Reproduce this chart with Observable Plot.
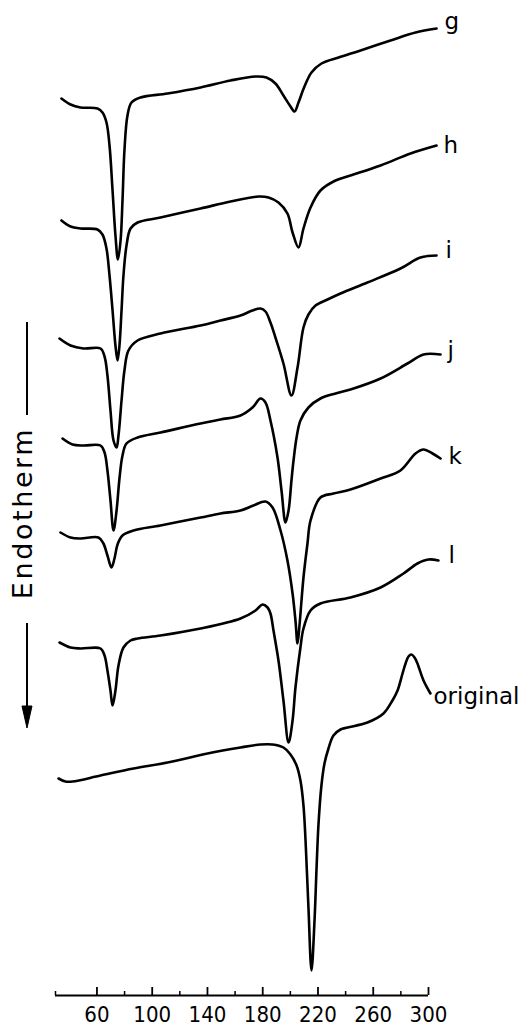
<!DOCTYPE html>
<html>
<head>
<meta charset="utf-8">
<script src="https://cdn.jsdelivr.net/npm/d3@7"></script>
<script src="https://cdn.jsdelivr.net/npm/@observablehq/plot@0.6"></script>
<style>
  html, body { margin: 0; padding: 0; background: #fff; }
  #chart svg { display: block; }
</style>
</head>
<body>
<div id="chart"></div>
<script>
// Temperature (°C) vs DSC signal (arbitrary units, higher = up on page)
const curveG = [[34.3,897],[40.9,891],[48.1,888],[60.4,887],[64.0,883],[66.9,873],[69.1,850],[71.3,805],[73.4,760],[75.2,736],[77.1,755],[78.5,795],[79.9,845],[82.1,880],[85.0,893],[91.5,898],[111.1,902],[135.0,908],[156.7,915],[174.8,919],[182.7,918],[189.2,912],[195.0,900],[200.1,889],[203.0,884],[205.9,893],[210.2,909],[215.3,923],[222.5,932],[234.9,938],[250.8,945],[272.5,955],[290.6,963],[305.8,967]];
const curveH = [[34.3,775],[40.9,769],[48.1,767],[60.4,766],[64.0,761],[66.9,747],[69.1,720],[71.3,685],[73.4,650],[74.9,635],[76.3,650],[77.8,685],[79.2,720],[81.4,750],[84.3,767],[89.4,773],[106.0,778],[135.0,787],[156.7,794],[176.9,799],[184.2,798],[191.4,793],[197.9,782],[201.6,763],[205.9,748],[209.5,767],[214.6,788],[221.8,805],[232.7,815],[243.5,820],[265.3,830],[287.0,842],[305.8,850]];
const curveI = [[32.9,657],[40.9,650],[50.3,647],[62.6,647],[65.5,639],[67.6,620],[69.8,585],[72.0,555],[74.2,548],[75.6,560],[77.8,595],[79.9,625],[82.8,645],[89.4,655],[106.0,662],[135.0,670],[149.4,675],[163.9,680],[172.6,685],[178.4,687],[182.0,684],[185.6,673],[189.2,658],[195.0,632],[200.8,600],[205.2,628],[209.5,668],[213.1,681],[218.2,690],[226.9,696],[236.3,702],[255.8,713],[279.7,727],[294.2,738],[305.8,740]];
const curveJ = [[35.1,557],[42.3,551],[50.3,550],[62.6,550],[65.5,543],[67.6,525],[69.8,495],[72.0,465],[74.2,485],[76.3,517],[78.5,540],[81.4,552],[89.4,558],[106.0,563],[135.0,572],[149.4,576],[163.9,580],[172.6,588],[178.4,597],[182.0,593],[185.6,575],[190.7,538],[193.6,505],[196.5,473],[198.7,485],[200.8,515],[202.3,535],[204.5,558],[207.3,575],[213.1,588],[221.8,597],[232.7,602],[243.5,606],[265.3,617],[284.8,632],[296.4,641],[308.7,641]];
const curveK = [[33.6,463],[40.9,458],[48.1,457],[61.1,458],[64.7,452],[67.6,440],[70.5,428],[72.7,437],[74.9,451],[78.5,460],[86.5,465],[106.0,470],[135.0,478],[149.4,482],[163.9,485],[173.3,490],[182.0,494],[187.1,488],[192.9,465],[197.9,435],[201.6,402],[203.7,375],[205.2,352],[206.6,370],[209.5,418],[212.4,452],[214.6,475],[221.8,498],[231.2,502],[243.5,506],[265.3,517],[279.7,525],[290.6,542],[296.4,546],[302.9,542],[308.7,537]];
const curveL = [[32.9,353],[40.9,348],[48.1,347],[62.6,347],[65.5,340],[67.6,325],[69.8,305],[71.3,290],[73.4,305],[75.6,330],[79.2,348],[84.3,355],[89.4,357],[106.0,360],[135.0,367],[163.9,377],[174.8,385],[179.8,391],[183.5,388],[185.6,382],[187.8,365],[191.4,335],[195.0,295],[198.7,253],[201.6,275],[203.7,308],[207.3,348],[209.5,367],[214.6,385],[221.8,392],[243.5,398],[265.3,408],[281.9,422],[292.0,432],[300.0,436],[307.2,435]];
const curveOriginal = [[32.2,217],[37.2,214],[42.3,214],[62.6,220],[86.5,227],[111.1,233],[140.0,242],[163.9,248],[178.4,251],[187.1,251],[195.0,248],[200.1,241],[204.5,230],[207.3,215],[209.5,190],[211.0,155],[213.1,88],[215.3,25],[217.5,75],[218.9,125],[220.4,172],[222.5,210],[224.7,232],[227.6,247],[231.2,260],[236.3,266],[241.4,268],[255.8,273],[267.4,282],[273.9,295],[277.6,305],[281.2,322],[283.4,332],[285.5,339],[287.7,341],[289.9,338],[292.0,332],[296.4,315],[301.4,302]];

const seriesNames = ["g", "h", "i", "j", "k", "l", "original"];
const seriesCurves = [curveG, curveH, curveI, curveJ, curveK, curveL, curveOriginal];
// label anchor (temperature, signal) for each series
const labelT = [311.6, 310.9, 312.3, 313.8, 314.5, 314.5, 303.6];
const labelV = [967, 843, 738, 638, 532, 433, 292];

const majorTicks = [60, 100, 140, 180, 220, 260, 300];
const minorTicks = [30, 80, 120, 160, 200, 240, 280];
const axisTitle = "Endotherm";

const rows = seriesNames.flatMap((name, i) => seriesCurves[i].map(([t, v]) => ({name, t, v})));
const labels = seriesNames.map((name, i) => ({name, t: labelT[i], v: labelV[i]}));

const plot = Plot.plot({
  width: 532,
  height: 1025,
  marginLeft: 55,
  marginRight: 104,
  marginTop: 0,
  marginBottom: 30,
  style: {background: "#fff", color: "#000"},
  x: {domain: [30, 300], axis: null},
  y: {domain: [0, 995], axis: null},
  marks: [
    Plot.line(rows, {x: "t", y: "v", z: "name", stroke: "#000", strokeWidth: 2.6, curve: "catmull-rom"}),
    Plot.text(labels, {x: "t", y: "v", text: "name", textAnchor: "start", lineAnchor: "bottom", fontSize: 23, fontFamily: "DejaVu Sans", fill: "#000"}),
    Plot.ruleY([0], {x1: 30, x2: 300, stroke: "#000", strokeWidth: 2}),
    Plot.ruleX(majorTicks, {x: d => d, y1: 0, y2: 8, stroke: "#000", strokeWidth: 1.8}),
    Plot.ruleX(minorTicks, {x: d => d, y1: 0, y2: 4, stroke: "#000", strokeWidth: 1.5}),
    Plot.text(majorTicks, {x: d => d, text: d => String(d), frameAnchor: "bottom", dy: 26, lineAnchor: "bottom", fontSize: 22, fontFamily: "DejaVu Sans Condensed", fill: "#000"}),
    Plot.text([axisTitle], {frameAnchor: "left", rotate: -90, textAnchor: "middle", dx: -24, dy: 15, lineAnchor: "bottom", fontSize: 27, fontFamily: "DejaVu Sans", fill: "#000"})
  ]
});

document.getElementById("chart").appendChild(plot);

// letter spacing on the rotated axis title, plus the arrow decoration beside it
const svg = d3.select(plot);
svg.selectAll("text").filter(function() { return this.textContent === axisTitle; })
  .attr("letter-spacing", 2.6);
const deco = svg.append("g").attr("stroke", "#000").attr("fill", "#000");
deco.append("line").attr("x1", 27).attr("x2", 27).attr("y1", 322).attr("y2", 415).attr("stroke-width", 2);
deco.append("line").attr("x1", 27).attr("x2", 27).attr("y1", 623).attr("y2", 710).attr("stroke-width", 2);
deco.append("path").attr("d", "M22,706 L32,706 L27,728 Z").attr("stroke-width", 1);
</script>
</body>
</html>
